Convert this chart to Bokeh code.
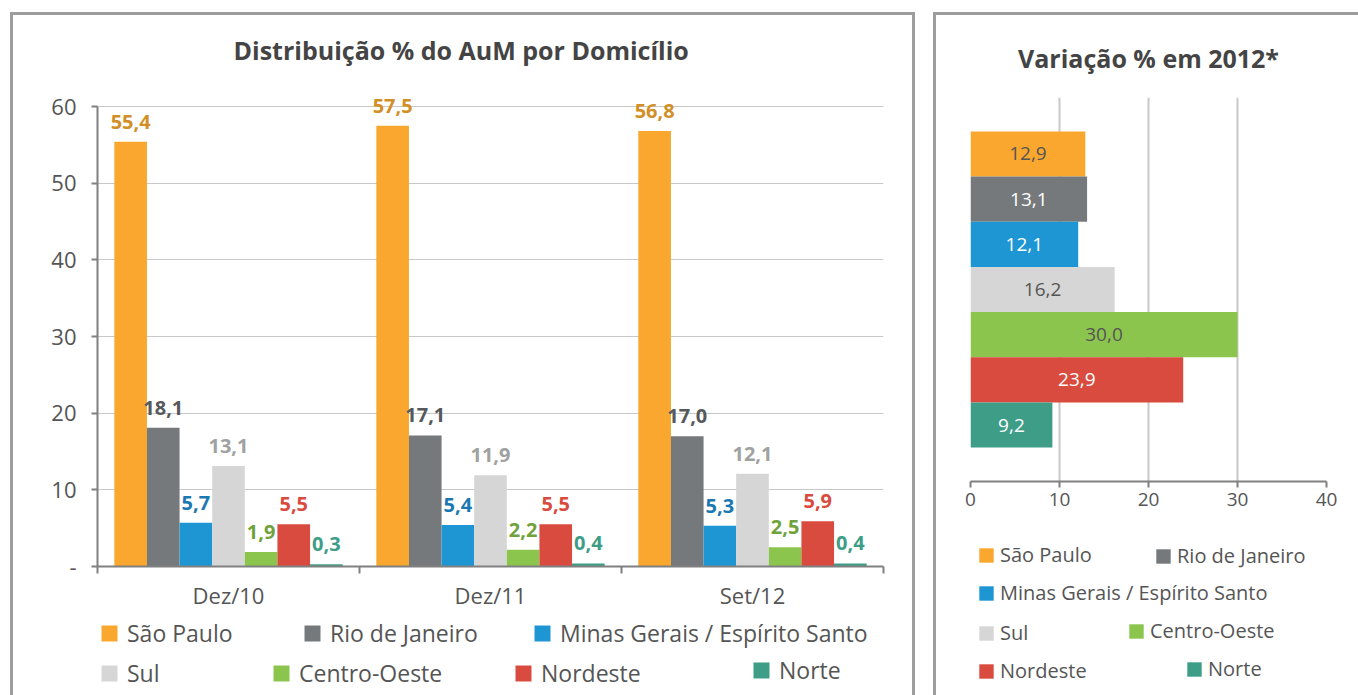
from bokeh.plotting import figure
from bokeh.models import (ColumnDataSource, FactorRange, Range1d, LinearAxis, CategoricalAxis,
                          Legend, LegendItem, FixedTicker, Title)
from bokeh.transform import dodge
from bokeh.layouts import row, column
from bokeh.embed import file_html
from bokeh.resources import INLINE
from bokeh.core.properties import value

# ---------------- data ----------------
periods = ["Dez/10", "Dez/11", "Set/12"]
regions = ["São Paulo", "Rio de Janeiro", "Minas Gerais / Espírito Santo", "Sul",
           "Centro-Oeste", "Nordeste", "Norte"]
sao_paulo = [55.4, 57.5, 56.8]
rio_de_janeiro = [18.1, 17.1, 17.0]
minas_es = [5.7, 5.4, 5.3]
sul = [13.1, 11.9, 12.1]
centro_oeste = [1.9, 2.2, 2.5]
nordeste = [5.5, 5.5, 5.9]
norte = [0.3, 0.4, 0.4]
series = [sao_paulo, rio_de_janeiro, minas_es, sul, centro_oeste, nordeste, norte]
variacao_2012 = [12.9, 13.1, 12.1, 16.2, 30.0, 23.9, 9.2]
left_y_ticks = [0, 10, 20, 30, 40, 50, 60]
right_x_ticks = [0, 10, 20, 30, 40]

# ---------------- style ----------------
FONT = "Open Sans"
fill_colors = ["#F9A72E", "#76797B", "#1E96D4", "#D5D6D5", "#8CC54E", "#D84B3E", "#3E9D87"]
label_colors = ["#D38F27", "#55595B", "#1C78B2", "#A0A1A1", "#6FA23A", "#D84B3E", "#3E9D87"]
inner_colors = ["#555555", "#FFFFFF", "#FFFFFF", "#555555", "#555555", "#FFFFFF", "#FFFFFF"]
TXT = "#555555"
AXIS = "#808080"
GRID = "#C8C8C8"
BORDER = "3px solid #9D9D9D"


def fmt(v):
    return f"{v:.1f}".replace(".", ",")


def legend_figure(x_range, y_range, width, height):
    f = figure(x_range=x_range, y_range=y_range, width=width, height=height,
               min_border=0, min_border_left=0, min_border_right=0, min_border_top=0,
               min_border_bottom=0, x_axis_location=None, y_axis_location=None,
               toolbar_location=None, output_backend="svg")
    f.outline_line_color = None
    f.grid.grid_line_color = None
    return f


def add_legends(fig, renderers, positions, size, standoff, font_size):
    for i, name in enumerate(regions):
        lg = Legend(items=[LegendItem(label=name, renderers=[renderers[i]])],
                    location=positions[i], padding=0, margin=0, spacing=0,
                    glyph_width=size, glyph_height=size, label_height=size,
                    label_standoff=standoff, label_text_font=FONT,
                    label_text_font_size=font_size, label_text_color=TXT,
                    border_line_color=None, background_fill_alpha=0)
        fig.add_layout(lg, "center")


# ================= left chart =================
# frame: 486 px tall, the 0..60 axis occupies the lower 460 px
left_frame_h, left_axis_h = 486, 460
y_top = left_y_ticks[-1] * left_frame_h / left_axis_h
left = figure(x_range=FactorRange(factors=periods, range_padding=0), y_range=Range1d(0, y_top),
              width=899, height=597,
              min_border_left=84, min_border_right=29, min_border_top=65, min_border_bottom=46,
              output_backend="svg", toolbar_location=None, x_axis_location=None)
left.outline_line_color = None
left.title = Title(text="Distribuição % do AuM por Domicílio", align="left", offset=136,
                   text_font=FONT, text_font_size="25px", text_font_style="bold",
                   text_color="#444444", standoff=28)

ya = left.left[0]
ya.bounds = (left_y_ticks[0], left_y_ticks[-1])
ya.ticker = FixedTicker(ticks=left_y_ticks)
ya.major_label_overrides = {0: "-"}
ya.major_label_text_font = FONT
ya.major_label_text_font_size = "22px"
ya.major_label_text_color = TXT
ya.axis_line_color = AXIS
ya.axis_line_width = 2
ya.major_tick_line_color = AXIS
ya.major_tick_line_width = 2
ya.major_tick_out = 6
ya.major_tick_in = 0
ya.minor_tick_line_color = None
ya.major_label_standoff = 15
left.ygrid.ticker = FixedTicker(ticks=left_y_ticks)
left.ygrid.grid_line_color = GRID
left.xgrid.grid_line_color = None

# axis line with tick marks at the category boundaries (synthetic coordinates 0..n)
tick_axis = LinearAxis(ticker=FixedTicker(ticks=list(range(len(periods) + 1))),
                       major_label_text_color=None, major_label_text_font_size="1px",
                       major_label_standoff=0,
                       axis_line_color=AXIS, axis_line_width=2, major_tick_line_color=AXIS,
                       major_tick_line_width=2, major_tick_out=7, major_tick_in=0,
                       minor_tick_line_color=None)
cat_axis = CategoricalAxis(axis_line_color=None, major_tick_line_color=None,
                           minor_tick_line_color=None, major_label_standoff=0,
                           major_label_text_font=FONT, major_label_text_font_size="22px",
                           major_label_text_color=TXT)
left.add_layout(tick_axis, "below")
left.add_layout(cat_axis, "below")

bw = 0.1245
for i, vals in enumerate(series):
    off = (i - 3) * bw
    src = ColumnDataSource(dict(period=periods, val=vals, lbl=[fmt(v) for v in vals]))
    left.vbar(x=dodge("period", off, range=left.x_range), top="val", width=bw,
              source=src, fill_color=fill_colors[i], line_color=None)
    left.text(x=dodge("period", off, range=left.x_range), y="val", text="lbl", source=src,
              text_align="center", text_baseline="alphabetic", y_offset=-20,
              text_font=value(FONT), text_font_style="bold", text_font_size="20px",
              text_color=label_colors[i])

# legend strip for the left chart
left_leg = legend_figure(left.x_range, Range1d(0, 60), 899, 83)
left_leg_renderers = []
for i, vals in enumerate(series):
    src = ColumnDataSource(dict(period=periods, val=vals))
    r = left_leg.vbar(x="period", top="val", width=bw, source=src,
                      fill_color=fill_colors[i], line_color=None, visible=False)
    left_leg_renderers.append(r)
left_legend_pos = [(2, 46), (205, 46), (435, 46), (2, 6), (174, 6), (416, 6), (654, 9)]
add_legends(left_leg, left_leg_renderers, left_legend_pos, 20, 8, "23px")

left_panel = column(left, left_leg, spacing=0, margin=(12, 0, 0, 10))
left_panel.styles = {"border-left": BORDER, "border-top": BORDER, "border-right": BORDER}

# ================= right chart =================
right = figure(y_range=FactorRange(factors=list(reversed(regions)), range_padding=0.75,
                                   range_padding_units="absolute"),
               x_range=Range1d(0, 40), width=422, height=506,
               min_border_left=34, min_border_right=32, min_border_top=82, min_border_bottom=40,
               output_backend="svg", toolbar_location=None, y_axis_location=None)
right.outline_line_color = None
right.title = Title(text="Variação % em 2012*", align="center",
                    text_font=FONT, text_font_size="25px", text_font_style="bold",
                    text_color="#444444", standoff=46)

xa = right.below[0]
xa.ticker = FixedTicker(ticks=right_x_ticks)
xa.major_label_text_font = FONT
xa.major_label_text_font_size = "19px"
xa.major_label_text_color = TXT
xa.axis_line_color = AXIS
xa.axis_line_width = 2
xa.major_tick_line_color = AXIS
xa.major_tick_line_width = 2
xa.major_tick_out = 6
xa.major_tick_in = 0
xa.minor_tick_line_color = None
xa.major_label_standoff = 5
right.xgrid.ticker = FixedTicker(ticks=right_x_ticks)
right.xgrid.grid_line_color = GRID
right.xgrid.grid_line_width = 2
right.ygrid.grid_line_color = None

rsrc = ColumnDataSource(dict(region=regions, val=variacao_2012, color=fill_colors,
                             tcolor=inner_colors, lbl=[fmt(v) for v in variacao_2012],
                             mid=[v / 2 for v in variacao_2012]))
right.hbar(y="region", left=0, right="val", height=1.0, source=rsrc,
           fill_color="color", line_color=None)
right.text(x="mid", y="region", text="lbl", source=rsrc, text_color="tcolor",
           text_align="center", text_baseline="middle", text_font=value(FONT),
           text_font_size="19px")

right_leg = legend_figure(Range1d(0, 40), right.y_range, 422, 174)
right_leg_renderers = []
for i, name in enumerate(regions):
    s = ColumnDataSource(dict(region=[name], val=[variacao_2012[i]]))
    rr = right_leg.hbar(y="region", left=0, right="val", height=1.0, source=s,
                        fill_color=fill_colors[i], line_color=None, visible=False)
    right_leg_renderers.append(rr)
right_legend_pos = [(7, 127), (184, 126), (7, 89), (7, 49), (157, 51), (7, 11), (215, 13)]
add_legends(right_leg, right_leg_renderers, right_legend_pos, 18, 5, "20px")

right_panel = column(right, right_leg, spacing=0, margin=(12, 0, 0, 18))
right_panel.styles = {"border-left": BORDER, "border-top": BORDER}

layout = row(left_panel, right_panel, spacing=0)
open("out.html", "w").write(file_html(layout, INLINE))
